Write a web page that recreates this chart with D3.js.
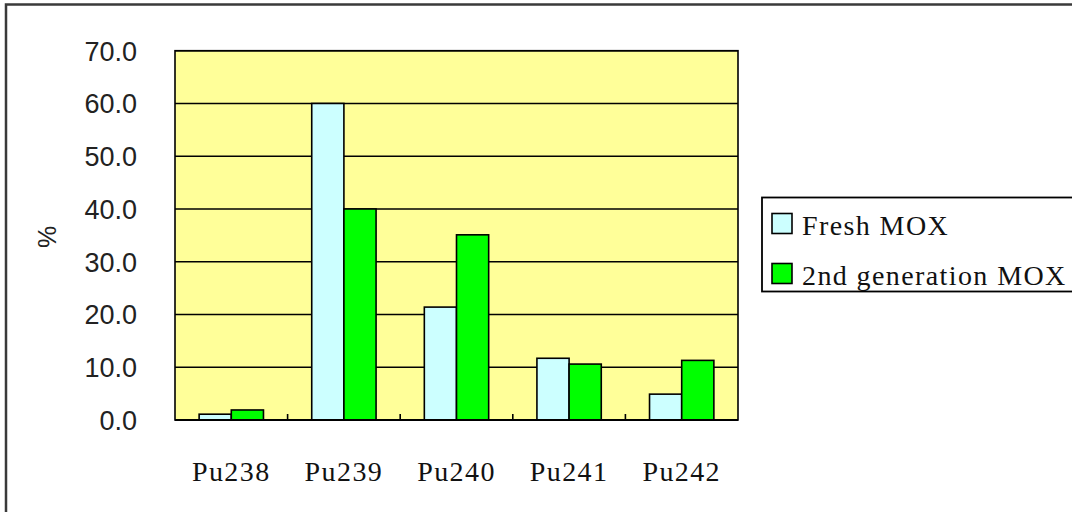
<!DOCTYPE html>
<html>
<head>
<meta charset="utf-8">
<script src="https://cdn.jsdelivr.net/npm/d3@7"></script>
<style>
  body { margin: 0; background: #fff; }
  svg { display: block; }
</style>
</head>
<body>
<svg id="chart-svg"></svg>
<script>
const width = 1072
const height = 512

// data
const isotopes = ['Pu238', 'Pu239', 'Pu240', 'Pu241', 'Pu242']
const seriesNames = ['Fresh MOX', '2nd generation MOX']
const freshMox = [1.1, 60.0, 21.4, 11.7, 4.9]
const secondMox = [1.9, 40.0, 35.1, 10.6, 11.3]
const yTicks = [0, 10, 20, 30, 40, 50, 60, 70]

const colors = ['#CCFFFF', '#00FF00']
const plot = {left: 175, top: 50.7, right: 738, bottom: 420}

const svg = d3.select('svg#chart-svg').attr('width', width).attr('height', height)

// outer chart frame (runs off the right and bottom of the picture)
svg.append('rect')
  .attr('x', 6).attr('y', 4.5)
  .attr('width', 1100).attr('height', 540)
  .attr('fill', '#fff')
  .attr('stroke', '#3a3a3a')
  .attr('stroke-width', 2.5)

const x0 = d3.scaleBand().domain(isotopes).range([plot.left, plot.right])
const x1 = d3.scaleBand().domain(seriesNames).range([0, x0.bandwidth()])
  .paddingInner(0).paddingOuter(0.75)
const y = d3.scaleLinear().domain([0, 70]).range([plot.bottom, plot.top])

// plot area background
svg.append('rect')
  .attr('x', plot.left).attr('y', plot.top)
  .attr('width', plot.right - plot.left).attr('height', plot.bottom - plot.top)
  .attr('fill', '#FFFF99')

// gridlines
svg.append('g').selectAll('line').data(yTicks.filter(d => d > 0)).enter().append('line')
  .attr('x1', plot.left).attr('x2', plot.right)
  .attr('y1', d => y(d)).attr('y2', d => y(d))
  .attr('stroke', '#000').attr('stroke-width', 1.6)

// bars
const rows = isotopes.map((iso, i) => ({iso: iso, values: [freshMox[i], secondMox[i]]}))
const groups = svg.append('g').selectAll('g').data(rows).enter().append('g')
  .attr('transform', d => `translate(${x0(d.iso)},0)`)

groups.selectAll('rect')
  .data(d => d.values.map((v, k) => ({name: seriesNames[k], value: v, k: k})))
  .enter().append('rect')
  .attr('x', d => x1(d.name))
  .attr('y', d => y(d.value))
  .attr('width', x1.bandwidth())
  .attr('height', d => y(0) - y(d.value))
  .attr('fill', d => colors[d.k])
  .attr('stroke', '#000')
  .attr('stroke-width', 1.6)

// plot border
svg.append('rect')
  .attr('x', plot.left).attr('y', plot.top)
  .attr('width', plot.right - plot.left).attr('height', plot.bottom - plot.top)
  .attr('fill', 'none')
  .attr('stroke', '#000').attr('stroke-width', 1.6)

// x axis with inner ticks at category boundaries
const xAxis = svg.append('g').attr('transform', `translate(0,${plot.bottom})`)
xAxis.append('line')
  .attr('x1', plot.left).attr('x2', plot.right)
  .attr('stroke', '#000').attr('stroke-width', 2.2)
xAxis.selectAll('line.tick').data(isotopes.slice(1)).enter().append('line')
  .attr('class', 'tick')
  .attr('x1', d => x0(d)).attr('x2', d => x0(d))
  .attr('y1', 0).attr('y2', -6)
  .attr('stroke', '#000').attr('stroke-width', 1.6)

xAxis.selectAll('text').data(isotopes).enter().append('text')
  .attr('x', d => x0(d) + x0.bandwidth() / 2)
  .attr('y', 61)
  .attr('text-anchor', 'middle')
  .style('font-family', '"Liberation Serif", serif')
  .style('font-size', '28px')
  .style('letter-spacing', '1.4px')
  .attr('fill', '#111')
  .text(d => d)

// y axis labels
svg.append('g').selectAll('text').data(yTicks).enter().append('text')
  .attr('x', 137)
  .attr('y', d => y(d) + 10)
  .attr('text-anchor', 'end')
  .style('font-family', '"Liberation Sans", Arial, sans-serif')
  .style('font-size', '27px')
  .attr('fill', '#222')
  .text(d => d3.format('.1f')(d))

svg.append('text')
  .attr('transform', 'translate(56,237) rotate(-90)')
  .attr('text-anchor', 'middle')
  .style('font-family', '"Liberation Sans", Arial, sans-serif')
  .style('font-size', '25px')
  .attr('fill', '#222')
  .text('%')

// legend
const legend = svg.append('g').attr('transform', 'translate(762,197.5)')
legend.append('rect')
  .attr('width', 340).attr('height', 94)
  .attr('fill', '#fff')
  .attr('stroke', '#000').attr('stroke-width', 1.8)

const items = legend.selectAll('g').data(seriesNames).enter().append('g')
  .attr('transform', (d, i) => `translate(10,${16 + i * 50})`)
items.append('rect')
  .attr('width', 20).attr('height', 20)
  .attr('fill', (d, i) => colors[i])
  .attr('stroke', '#000').attr('stroke-width', 1.6)
items.append('text')
  .attr('x', 30).attr('y', 21)
  .style('font-family', '"Liberation Serif", serif')
  .style('font-size', '28px')
  .style('letter-spacing', '1.4px')
  .attr('fill', '#111')
  .text(d => d)
</script>
</body>
</html>
